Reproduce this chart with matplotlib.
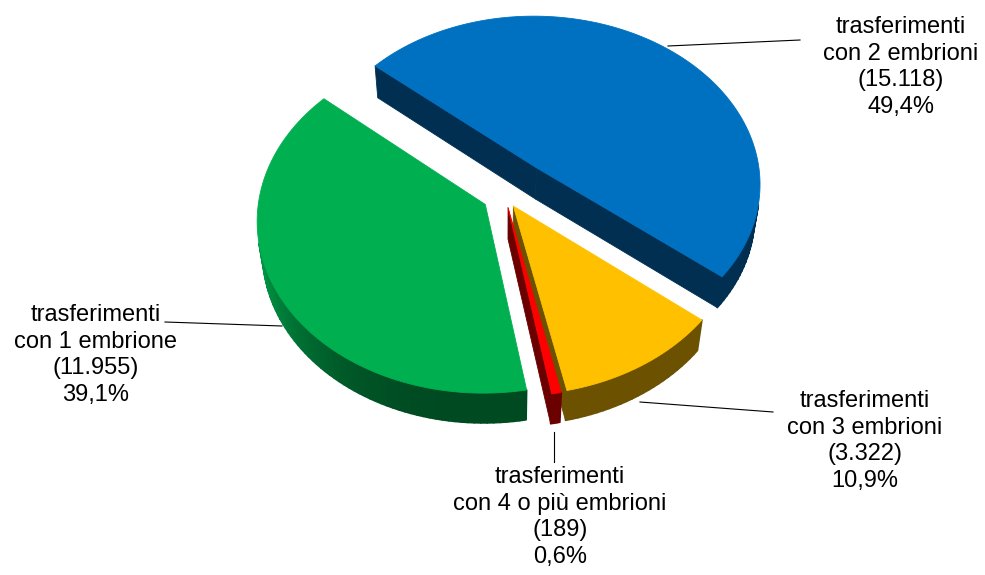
import numpy as np
import matplotlib.pyplot as plt
from matplotlib.colors import to_rgb

# dati: trasferimenti per numero di embrioni
categories = ['trasferimenti\ncon 1 embrione', 'trasferimenti\ncon 2 embrioni',
              'trasferimenti\ncon 3 embrioni', 'trasferimenti\ncon 4 o più embrioni']
counts = [11955, 15118, 3322, 189]
count_labels = ['11.955', '15.118', '3.322', '189']
pct_labels = ['39,1%', '49,4%', '10,9%', '0,6%']

colors = ['#00B050', '#0070C0', '#FFC000', '#FF0000']
explode = [0.10, 0.22, 0.07, 0.07]

# vista 3d (pixel)
CX, CY = 505, 196
F = 226
D = 7.3
ALPHA = np.radians(48.8)
H = 0.215
START = 170

sa, ca = np.sin(ALPHA), np.cos(ALPHA)
cam = np.array([0.0, -D * ca, D * sa])


def project(X, Y, Z):
    X, Y, Z = np.asarray(X, float), np.asarray(Y, float), np.asarray(Z, float)
    up = Y * sa + Z * ca
    dep = D + Y * ca - Z * sa
    return CX + F * D * X / dep, CY - F * D * up / dep


def visible(normal, pts):
    c = np.mean(pts, axis=0)
    return np.dot(normal, cam - c) > 0


def shade(col, k):
    return tuple(np.clip(np.array(to_rgb(col)) * k, 0, 1))


def draw_face(ax, pts, col, lw=0.6):
    pts = np.array(pts)
    sx, sy = project(pts[:, 0], pts[:, 1], pts[:, 2])
    ax.fill(sx, sy, color=col, lw=lw, ec=col, joinstyle='round')


fig = plt.figure(figsize=(9.85, 5.75), dpi=100)
ax = fig.add_axes([0, 0, 1, 1])
ax.set_xlim(0, 985)
ax.set_ylim(575, 0)
ax.axis('off')

fracs = np.array(counts) / sum(counts)
starts = START + 360 * np.concatenate([[0], np.cumsum(fracs)[:-1]])
ends = starts + 360 * fracs

slices = []
for i in range(len(counts)):
    t1, t2 = starts[i], ends[i]
    mid = np.radians((t1 + t2) / 2)
    ox, oy = explode[i] * np.sin(mid), explode[i] * np.cos(mid)
    depth = D + oy * ca + 0.5 * np.cos(mid) * ca
    slices.append((depth, i, t1, t2, ox, oy))

# dal fondo verso il davanti
slices.sort(key=lambda s: -s[0])

for depth, i, t1, t2, ox, oy in slices:
    col = colors[i]
    dark = shade(col, 0.42)
    th = np.radians(np.linspace(t1, t2, max(4, int((t2 - t1) / 1.5))))
    rx, ry = ox + np.sin(th), oy + np.cos(th)
    apex = np.array([ox, oy])

    # facce radiali
    for t, sign in [(np.radians(t1), -1), (np.radians(t2), 1)]:
        n = sign * np.array([np.cos(t), -np.sin(t), 0])
        rim = apex + [np.sin(t), np.cos(t)]
        pts = [[*apex, 0], [*rim, 0], [*rim, -H], [*apex, -H]]
        if visible(n, np.array(pts)):
            draw_face(ax, pts, dark)

    # bordo esterno
    for j in range(len(th) - 1):
        tm = (th[j] + th[j + 1]) / 2
        n = np.array([np.sin(tm), np.cos(tm), 0])
        pts = [[rx[j], ry[j], 0], [rx[j + 1], ry[j + 1], 0],
               [rx[j + 1], ry[j + 1], -H], [rx[j], ry[j], -H]]
        if visible(n, np.array(pts)):
            k = 0.42 + 0.45 * max(0, -np.sin(tm)) ** 3
            draw_face(ax, pts, shade(col, k), lw=1.2)

    # faccia superiore
    top = [[*apex, 0]] + [[x, y, 0] for x, y in zip(rx, ry)]
    draw_face(ax, top, col)

# etichette
label_pos = [(96, 355), (901, 67), (865, 441), (560, 517)]
leaders = [((165, 282), (322, 326)), ((668, 800), (46, 40)),
           ((640, 773), (402, 412)), ((554, 554), (432, 462))]
for i in range(len(counts)):
    ax.plot(*leaders[i], color='black', lw=0.8)
    txt = '{}\n({})\n{}'.format(categories[i], count_labels[i], pct_labels[i])
    ax.text(*label_pos[i], txt, ha='center', va='center', fontsize=17,
            family='Liberation Sans', linespacing=1.28, color='black')

fig.savefig('out.png', dpi=100)
